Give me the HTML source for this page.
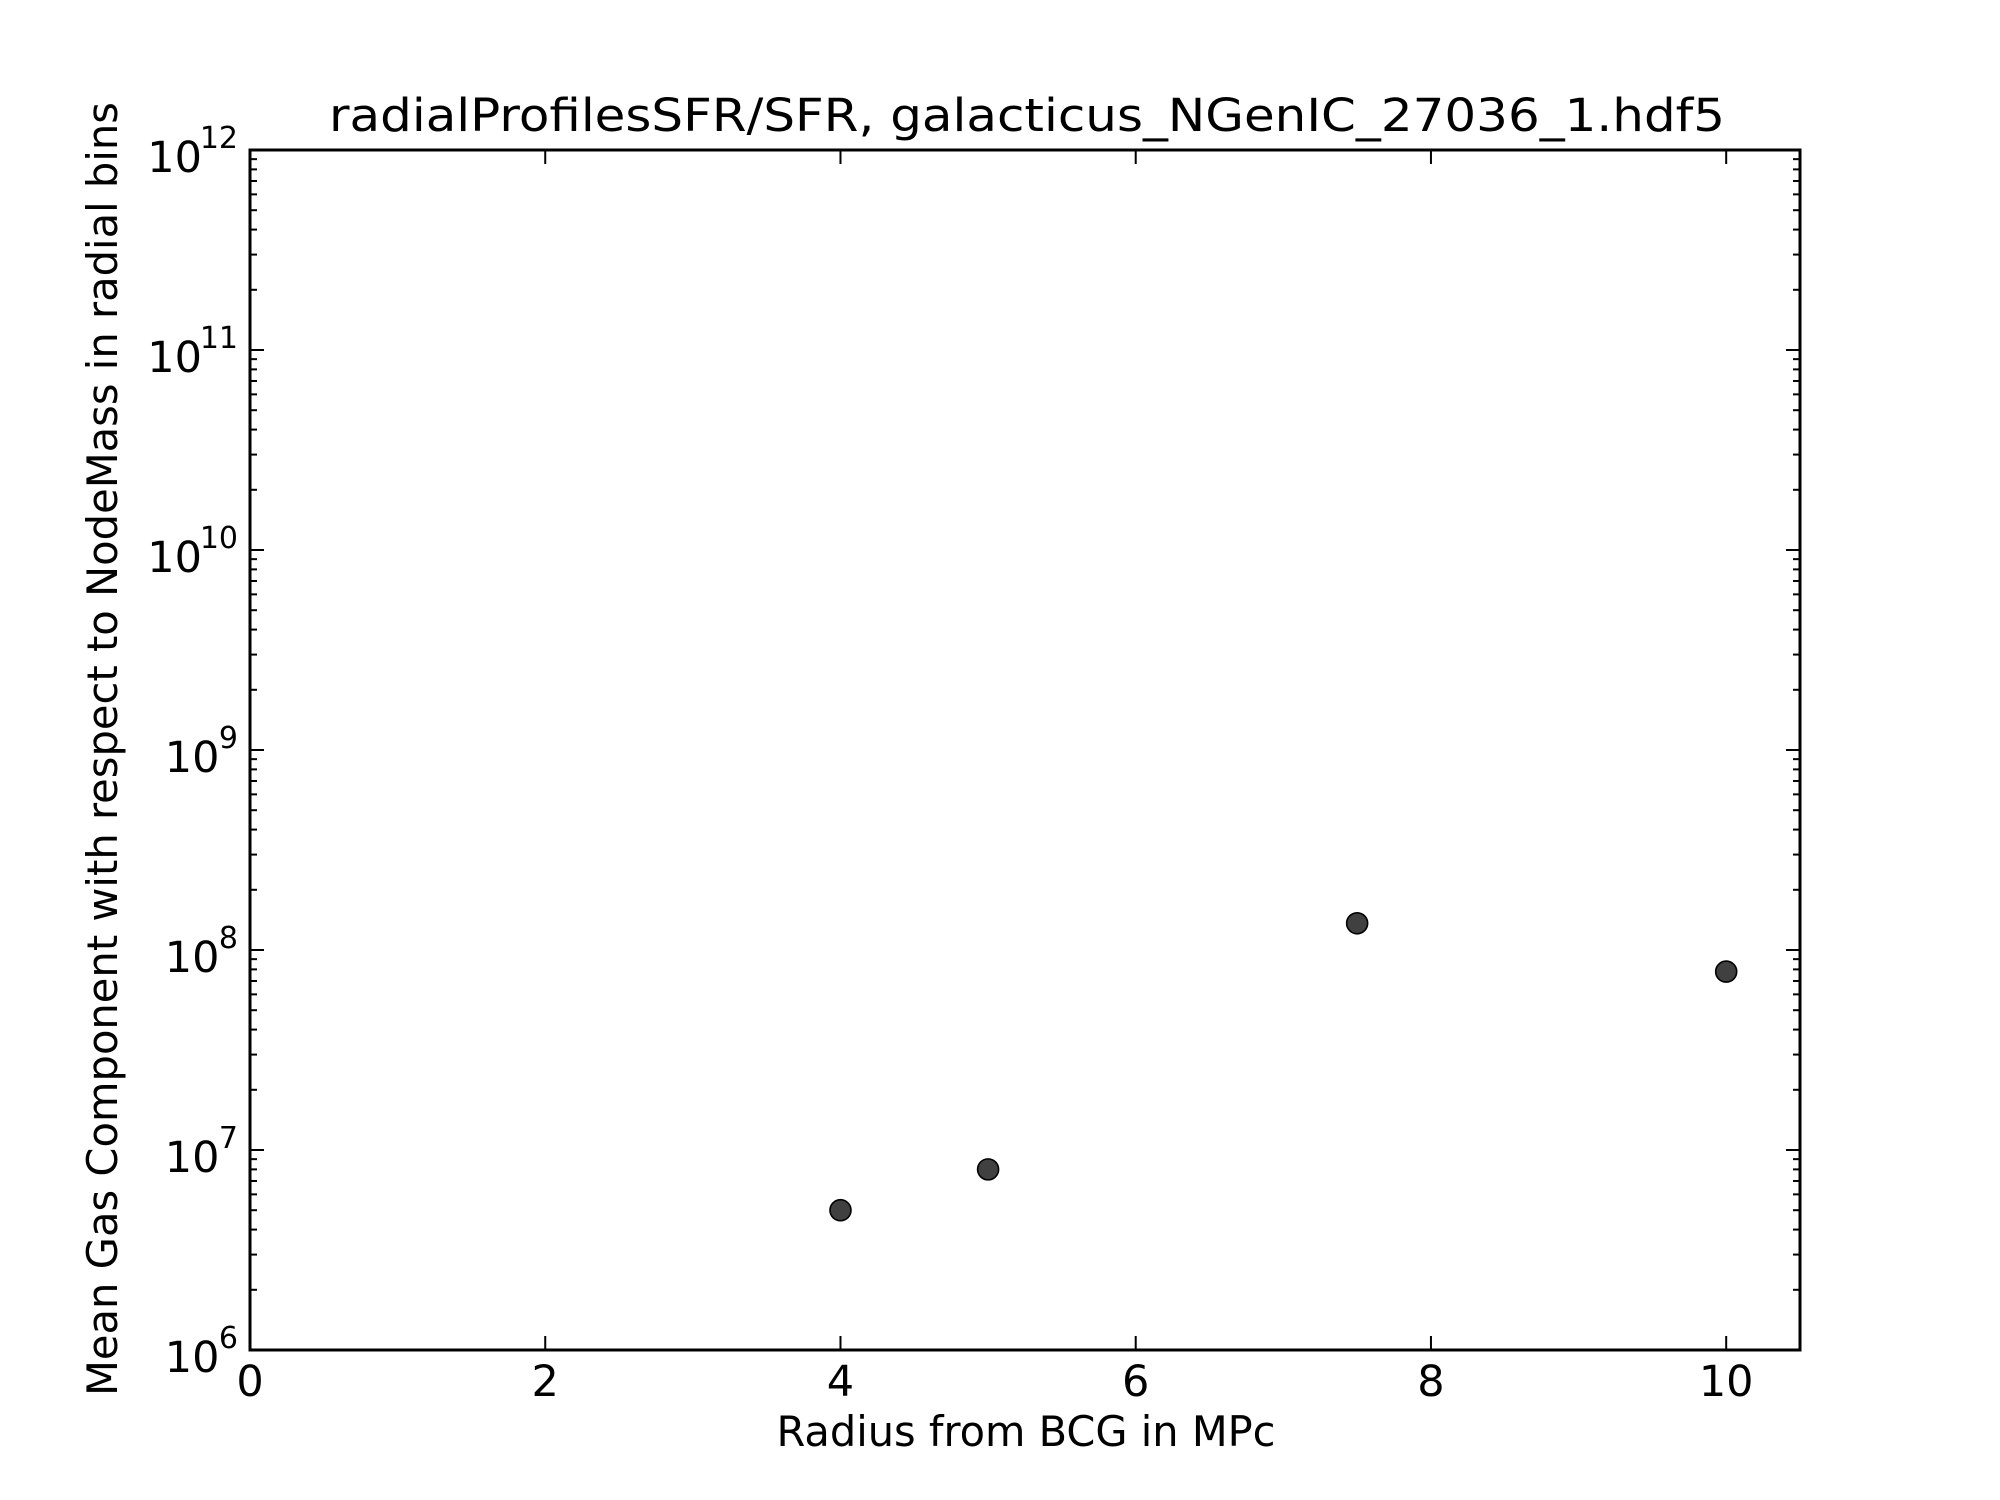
<!DOCTYPE html>
<html><head><meta charset="utf-8"><style>
html,body{margin:0;padding:0;background:#fff;}
svg{display:block;font-family:"DejaVu Sans","Liberation Sans",sans-serif;}
</style></head><body>
<svg id="chart" width="2000" height="1500" viewBox="0 0 2000 1500">
<rect width="2000" height="1500" fill="#fff"/>
<text x="1027" y="131" font-size="45" text-anchor="middle" textLength="1396" lengthAdjust="spacingAndGlyphs">radialProfilesSFR/SFR, galacticus_NGenIC_27036_1.hdf5</text>
<text x="1026" y="1446" font-size="42" text-anchor="middle" textLength="499" lengthAdjust="spacingAndGlyphs">Radius from BCG in MPc</text>
<text transform="translate(117,749) rotate(-90)" font-size="42" text-anchor="middle" textLength="1294" lengthAdjust="spacingAndGlyphs">Mean Gas Component with respect to NodeMass in radial bins</text>
<g id="ticks"></g>
<g id="marks"></g>
<rect x="250" y="150" width="1550" height="1200" fill="none" stroke="#000" stroke-width="3"/>
</svg>
<script>
const xValues = [4, 5, 7.5, 10];
const yValues = [5.0e6, 8.0e6, 1.36e8, 7.8e7];
const xTicks = [0, 2, 4, 6, 8, 10];
const yTickExps = [6, 7, 8, 9, 10, 11, 12];

const L=250,R=1800,T=150,B=1350,X0=0,X1=10.5,E0=6,E1=12;
const NS='http://www.w3.org/2000/svg';
function xs(v){return L+(v-X0)/(X1-X0)*(R-L);}
function ys(v){return B-(Math.log10(v)-E0)/(E1-E0)*(B-T);}
function mk(tag,attrs,parent){const e=document.createElementNS(NS,tag);for(const k in attrs)e.setAttribute(k,attrs[k]);parent.appendChild(e);return e;}
const tg=document.getElementById('ticks');
xTicks.forEach(t=>{
  const x=xs(t);
  let l=mk('line',{x1:x,x2:x,y1:B,y2:B-14,stroke:'#000','stroke-width':2},tg);
  
  
  l=mk('line',{x1:x,x2:x,y1:T,y2:T+14,stroke:'#000','stroke-width':2},tg);
  
  
  const tx=mk('text',{x:x,y:1396,'font-size':43,'text-anchor':'middle'},tg);
  tx.textContent=String(t);
  
  
});
yTickExps.forEach(e=>{
  const y=ys(Math.pow(10,e));
  let l=mk('line',{x1:L,x2:L+14,y1:y,y2:y,stroke:'#000','stroke-width':2},tg);
  
  
  l=mk('line',{x1:R,x2:R-14,y1:y,y2:y,stroke:'#000','stroke-width':2},tg);
  
  
  const supW=String(e).length*17.5;
  const tx=mk('text',{x:237-supW,y:y+22,'font-size':43,'text-anchor':'end'},tg);
  tx.textContent='10';
  
  
  const sp=mk('text',{x:238,y:y-2,'font-size':30,'text-anchor':'end'},tg);
  sp.textContent=String(e);
  
  
  if(e<E1){for(let m=2;m<=9;m++){
    const ym=ys(m*Math.pow(10,e));
    let a=mk('line',{x1:L,x2:L+7,y1:ym,y2:ym,stroke:'#000','stroke-width':2},tg);
    
    
    a=mk('line',{x1:R,x2:R-7,y1:ym,y2:ym,stroke:'#000','stroke-width':2},tg);
    
    
  }}
});
const mg=document.getElementById('marks');
xValues.forEach((xv,i)=>{
  const c=mk('circle',{cx:xs(xv),cy:ys(yValues[i]),r:10.5,fill:'#404040',stroke:'#000','stroke-width':1.6},mg);
  
  
});
</script>
</body></html>
